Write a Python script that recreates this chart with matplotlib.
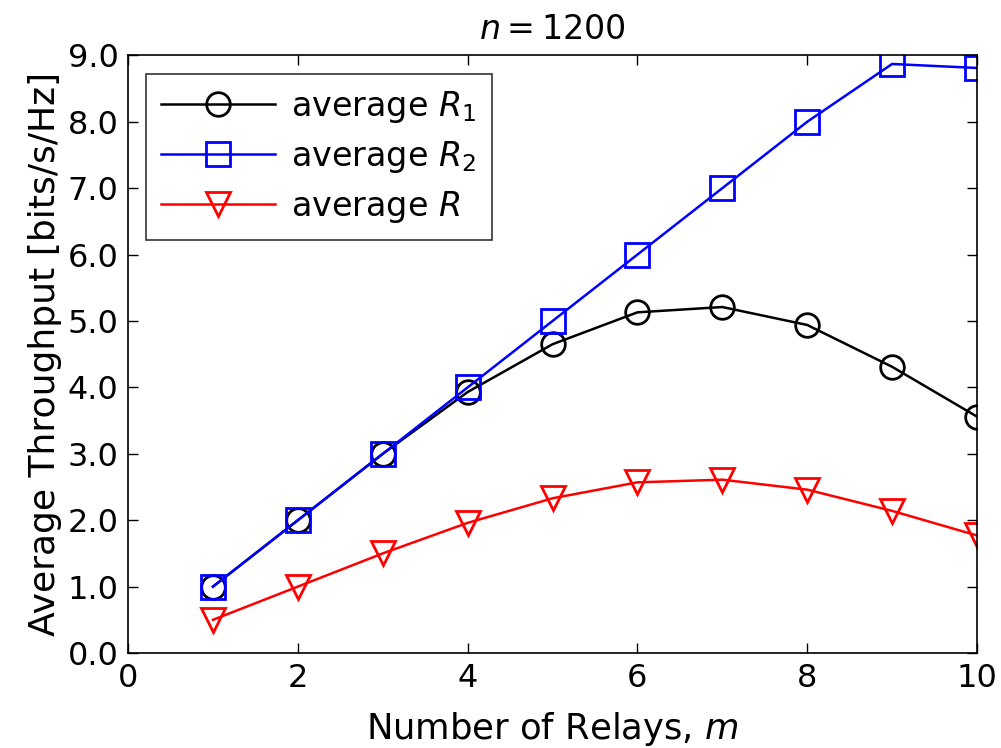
import matplotlib
matplotlib.use("Agg")
import matplotlib.pyplot as plt
from matplotlib.ticker import FormatStrFormatter

# number of relays m
relays = [1, 2, 3, 4, 5, 6, 7, 8, 9, 10]
# average throughputs [bits/s/Hz]
avg_r1 = [1.0, 2.0, 3.0, 3.93, 4.65, 5.13, 5.21, 4.94, 4.31, 3.56]
avg_r2 = [1.0, 2.0, 3.0, 4.0, 5.0, 6.0, 7.0, 8.0, 8.87, 8.81]
avg_r = [0.5, 1.0, 1.5, 1.96, 2.33, 2.57, 2.61, 2.46, 2.14, 1.77]

x_ticks = [0, 2, 4, 6, 8, 10]
y_ticks = [0, 1, 2, 3, 4, 5, 6, 7, 8, 9]

plt.rcParams["font.family"] = ["DejaVu Sans"]
plt.rcParams["mathtext.fontset"] = "dejavusans"

fig = plt.figure(figsize=(10.01, 7.48), dpi=100)
ax = fig.add_axes([0.128, 0.127, 0.848, 0.799])

common = dict(lw=1.8, ms=17, mew=2.0, mfc="none")
ax.plot(relays, avg_r1, color="black", marker="o", label=r"average $R_1$", **common)
ax.plot(relays, avg_r2, color="blue", marker="s", label=r"average $R_2$", **common)
ax.plot(relays, avg_r, color="red", marker="v", label=r"average $R$", **common)

ax.set_xlim(0, 10)
ax.set_ylim(0, 9)
ax.set_xticks(x_ticks)
ax.set_yticks(y_ticks)
ax.yaxis.set_major_formatter(FormatStrFormatter("%.1f"))
ax.tick_params(direction="in", top=True, right=True, length=7, width=1,
               labelsize=23, pad=7)
for sp in ax.spines.values():
    sp.set_linewidth(1.2)

ax.set_xlabel(r"Number of Relays, $m$", fontsize=25.5, labelpad=12)
ax.set_ylabel("Average Throughput [bits/s/Hz]", fontsize=26, labelpad=4)
ax.set_title(r"$n = 1200$", fontsize=24, pad=12)

leg = ax.legend(loc="upper left", fancybox=False, edgecolor="black",
                fontsize=24, handlelength=3.4, borderaxespad=0.55,
                labelspacing=0.42, handletextpad=0.5, borderpad=0.45)
leg.get_frame().set_linewidth(1.2)

fig.savefig("out.png", dpi=100)
